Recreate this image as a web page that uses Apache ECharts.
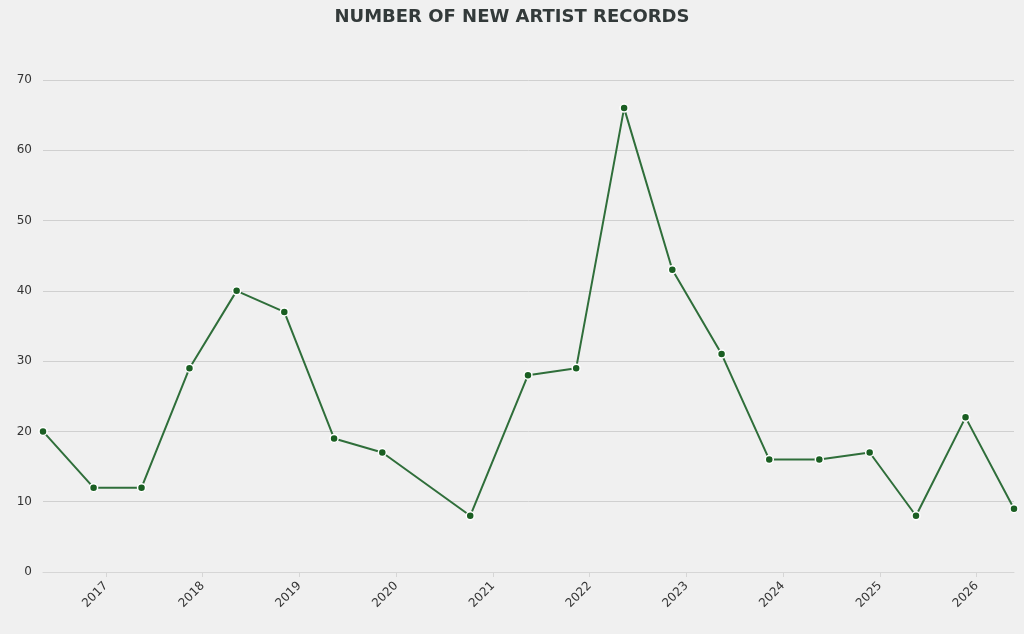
<!DOCTYPE html>
<html>
<head>
<meta charset="utf-8">
<style>
  html, body { margin: 0; padding: 0; background: #f0f0f0; }
  #chart { width: 1024px; height: 634px; }
</style>
<script src="https://cdn.jsdelivr.net/npm/echarts@6/dist/echarts.min.js"></script>
</head>
<body>
<div id="chart"></div>
<script>
var dates = ['2016-05-08', '2016-11-15', '2017-05-15', '2017-11-12', '2018-05-09',
    '2018-11-05', '2019-05-12', '2019-11-10', '2020-10-07', '2021-05-13',
    '2021-11-11', '2022-05-11', '2022-11-09', '2023-05-14', '2023-11-10',
    '2024-05-17', '2024-11-23', '2025-05-17', '2025-11-20', '2026-05-22'];
var records = [20, 12, 12, 29, 40, 37, 19, 17, 8, 28, 29, 66, 43, 31, 16, 16, 17, 8, 22, 9];
var yTicks = [0, 10, 20, 30, 40, 50, 60, 70];

var chart = echarts.init(document.getElementById('chart'));
var option = {
    backgroundColor: '#f0f0f0',
    textStyle: { fontFamily: 'DejaVu Sans' },
    title: {
        text: 'NUMBER OF NEW ARTIST RECORDS',
        left: 'center',
        top: 3,
        textStyle: { fontSize: 18, fontWeight: 'bold', color: '#333a3a', fontFamily: 'DejaVu Sans' }
    },
    grid: { left: 43, right: 10, top: 80, bottom: 62 },
    xAxis: {
        type: 'time',
        min: dates[0],
        max: dates[dates.length - 1],
        minInterval: 365 * 24 * 3600 * 1000,
        maxInterval: 366 * 24 * 3600 * 1000,
        axisLine: { lineStyle: { color: '#d6d6d6' } },
        axisTick: { show: true, lineStyle: { color: '#d6d6d6' } },
        splitLine: { show: false },
        axisLabel: {
            rotate: 45,
            color: '#333',
            fontSize: 12,
            margin: 12,
            showMinLabel: false,
            showMaxLabel: false,
            formatter: function (v) { return String(new Date(v).getFullYear()); }
        }
    },
    yAxis: {
        type: 'value',
        min: yTicks[0],
        max: yTicks[yTicks.length - 1],
        interval: 10,
        axisLine: { show: false },
        axisTick: { show: false },
        splitLine: { lineStyle: { color: '#d0d0d0' } },
        axisLabel: { color: '#333', fontSize: 12, margin: 11 }
    },
    series: [{
        type: 'line',
        data: dates.map(function (d, i) { return [d, records[i]]; }),
        symbol: 'circle',
        symbolSize: 8,
        lineStyle: { color: '#2f6e3a', width: 2 },
        itemStyle: { color: '#1a5e22', borderColor: '#ffffff', borderWidth: 1.5 }
    }]
};
chart.setOption(option);
</script>
</body>
</html>
